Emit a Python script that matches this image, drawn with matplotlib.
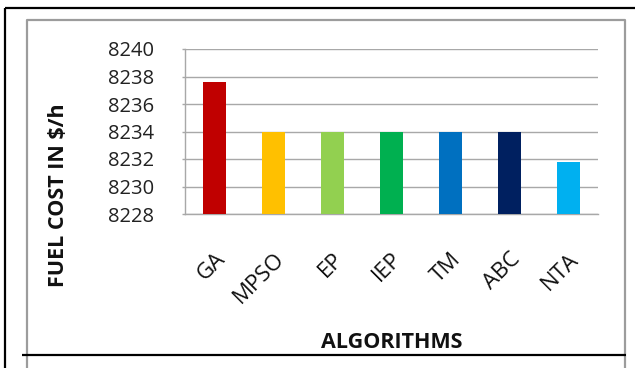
import matplotlib.pyplot as plt
from matplotlib.lines import Line2D

# fuel cost for each algorithm
algorithms = ["GA", "MPSO", "EP", "IEP", "TM", "ABC", "NTA"]
fuel_cost = [8237.6, 8234.0, 8234.0, 8234.0, 8234.0, 8234.0, 8231.8]
bar_colors = ["#C00000", "#FFC000", "#92D050", "#00B050", "#0070C0", "#002060", "#00B0F0"]
y_ticks = [8228, 8230, 8232, 8234, 8236, 8238, 8240]

plt.rcParams['font.family'] = ['Open Sans', 'DejaVu Sans']

W, H = 637, 368
fig = plt.figure(figsize=(W / 100, H / 100), dpi=100)
ax = fig.add_axes([185 / W, 1 - 214 / H, (598 - 185) / W, (214 - 49) / H])

x = range(len(algorithms))
ax.bar(x, [v - y_ticks[0] for v in fuel_cost], bottom=y_ticks[0],
       width=0.4, color=bar_colors, zorder=3)

ax.set_xlim(-0.5, len(algorithms) - 0.5)
ax.set_ylim(y_ticks[0], y_ticks[-1])
ax.set_yticks(y_ticks)
ax.set_yticklabels([str(t) for t in y_ticks], fontsize=14.5, color="#222222")
ax.yaxis.grid(True, color="#A8A8A8", linewidth=1.0, zorder=0)

ax.set_xticks(list(x))
ax.set_xticklabels(algorithms, rotation=45, ha="right", va="top",
                   rotation_mode="anchor", fontsize=16, color="#111111")
ax.tick_params(axis="x", length=0, pad=25)
ax.tick_params(axis="y", length=2, width=1, color="#A8A8A8", pad=20)

for s in ["top", "right"]:
    ax.spines[s].set_visible(False)
for s in ["left", "bottom"]:
    ax.spines[s].set_color("#A8A8A8")
    ax.spines[s].set_linewidth(1.0)

fig.text(59 / W, 1 - 195 / H, "FUEL COST IN $/h", rotation=90, fontsize=15.5,
         fontweight="bold", ha="center", va="center", color="#111111")
fig.text(392 / W, 1 - 343 / H, "ALGORITHMS", fontsize=15.5, fontweight="bold",
         ha="center", va="center", color="#111111")


def frame_line(xs, ys, color, lw):
    fig.add_artist(Line2D([v / W for v in xs], [1 - v / H for v in ys],
                          transform=fig.transFigure, color=color,
                          linewidth=lw, solid_capstyle="butt"))


# gray chart border
frame_line([27, 27, 625, 625], [368, 20, 20, 368], "#9C9C9C", 1.6)
# black page/table lines
frame_line([5, 635], [8, 8], "black", 1.6)
frame_line([5, 5], [8, 368], "black", 1.6)
frame_line([22, 626], [355, 355], "black", 1.6)

fig.savefig("out.png", dpi=100)
